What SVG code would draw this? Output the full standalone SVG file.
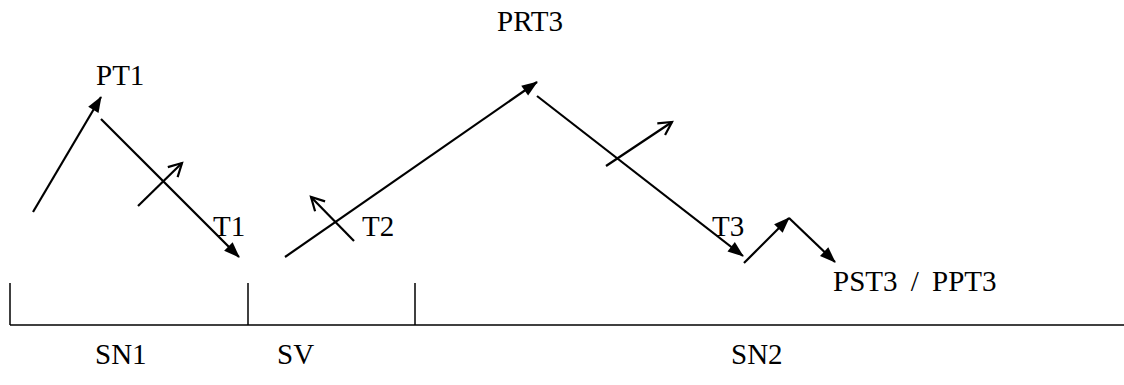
<svg xmlns="http://www.w3.org/2000/svg" width="1124" height="385" viewBox="0 0 1124 385">
<style>
text{font-family:"Liberation Serif","Times New Roman",serif;font-size:29px;fill:#000}
.ln{stroke:#000;stroke-width:2.2;fill:none}
.fa{marker-end:url(#fill)}
.oa{marker-end:url(#open)}
.ax{stroke:#000;stroke-width:1.5;fill:none}
</style>
<defs>
<marker id="fill" markerUnits="userSpaceOnUse" markerWidth="18" markerHeight="14" refX="15" refY="6" orient="auto" overflow="visible">
<path d="M0,0 L16,6 L0,12 z" fill="#000"/>
</marker>
<marker id="open" markerUnits="userSpaceOnUse" markerWidth="16" markerHeight="16" refX="13" refY="7" orient="auto" overflow="visible">
<path d="M0,0 L13,7 L0,14" fill="none" stroke="#000" stroke-width="2.2"/>
</marker>
</defs>
<g id="axis">
<line class="ax" x1="10" y1="325" x2="1124" y2="325"/>
<line class="ax" x1="10" y1="283" x2="10" y2="325"/>
<line class="ax" x1="248" y1="283" x2="248" y2="325"/>
<line class="ax" x1="415" y1="283" x2="415" y2="325"/>
</g>
<g id="connectors">
<line class="ln fa" x1="33" y1="212" x2="101" y2="97"/>
<line class="ln fa" x1="101" y1="119" x2="239" y2="257"/>
<line class="ln oa" x1="138" y1="206" x2="182" y2="163"/>
<line class="ln fa" x1="285" y1="257" x2="537" y2="82"/>
<line class="ln oa" x1="354" y1="241" x2="311" y2="197"/>
<line class="ln fa" x1="537" y1="96" x2="743" y2="256"/>
<line class="ln oa" x1="606" y1="166" x2="672" y2="122"/>
<line class="ln fa" x1="744" y1="263" x2="789" y2="218"/>
<line class="ln fa" x1="789" y1="218" x2="835" y2="262"/>
</g>
<g id="labels">
<text x="96" y="85">PT1</text>
<text x="497" y="31">PRT3</text>
<text x="213" y="236">T1</text>
<text x="362" y="236">T2</text>
<text x="712" y="236">T3</text>
<text x="833" y="291" word-spacing="6">PST3 / PPT3</text>
<text x="95" y="364">SN1</text>
<text x="277" y="364">SV</text>
<text x="731" y="364">SN2</text>
</g>
</svg>
